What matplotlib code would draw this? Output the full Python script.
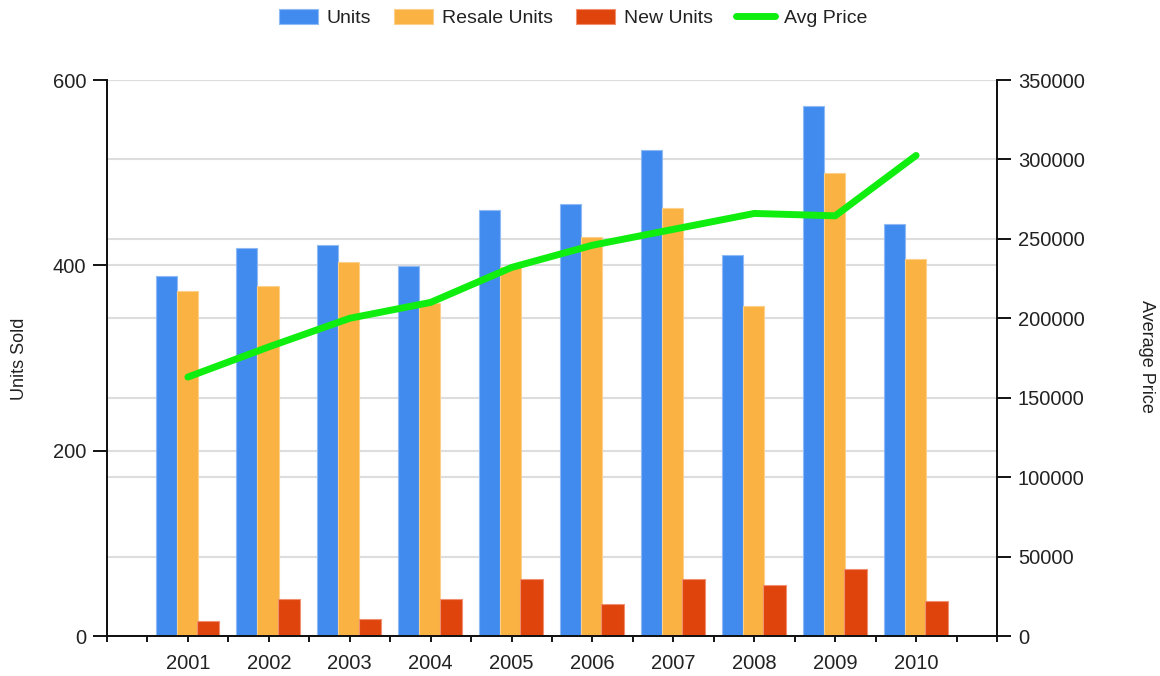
import numpy as np
import matplotlib
matplotlib.use('Agg')
import matplotlib.pyplot as plt

plt.rcParams['font.family'] = ['Liberation Sans', 'DejaVu Sans']

# data
years = ['2001', '2002', '2003', '2004', '2005', '2006', '2007', '2008', '2009', '2010']
units = [388, 419, 422, 399, 460, 466, 524, 411, 572, 445]
resale_units = [372, 378, 404, 359, 398, 431, 462, 356, 500, 407]
new_units = [16, 40, 18, 40, 62, 34, 62, 55, 72, 38]
avg_price = [163000, 182000, 200000, 210000, 232000, 246000, 256000, 266000, 264500, 302500]

left_ticks = [0, 200, 400, 600]
right_ticks = [0, 50000, 100000, 150000, 200000, 250000, 300000, 350000]

blue = '#418BEE'
orange = '#FAB242'
red = '#E0440D'
green = '#10EE10'
text_col = '#222222'

fig = plt.figure(figsize=(11.6, 6.76), dpi=100)
ax1 = fig.add_axes([107 / 1160, 1 - 636 / 676, 890 / 1160, 556 / 676])
ax2 = ax1.twinx()

x = np.arange(len(years))

ax1.set_axisbelow(True)
for v in left_ticks:
    ax1.axhline(v, color='#dddddd', lw=1.5, zorder=0)
for v in right_ticks:
    ax1.axhline(v * 600 / 350000, color='#dddddd', lw=1.5, zorder=0)

ax1.bar(x - 0.27, units, width=0.26, color=blue, edgecolor='#8fbaf5', linewidth=0.8, label='Units', zorder=2)
ax1.bar(x - 0.01, resale_units, width=0.26, color=orange, edgecolor='#fcd08a', linewidth=0.8, label='Resale Units', zorder=2)
ax1.bar(x + 0.25, new_units, width=0.28, color=red, edgecolor='#f09070', linewidth=0.8, label='New Units', zorder=2)

ax2.plot(x, avg_price, color=green, lw=5, solid_capstyle='round', solid_joinstyle='round', label='Avg Price')

ax1.set_xlim(-1, 10)
ax1.set_ylim(0, 600)
ax2.set_ylim(0, 350000)

ax1.set_xticks(x)
ax1.set_xticklabels(years)
ax1.set_xticks(np.arange(-1, 10.01, 0.5), minor=True)
ax1.tick_params(axis='x', which='both', direction='out', length=4, width=1.3, pad=9,
                labelsize=14.5, labelcolor=text_col)

ax1.set_yticks(left_ticks)
ax1.set_yticklabels([str(v) for v in left_ticks])
ax1.tick_params(axis='y', length=10, width=1.3, pad=5, labelsize=14.5, labelcolor=text_col)

ax2.set_yticks(right_ticks)
ax2.set_yticklabels([str(v) for v in right_ticks])
ax2.tick_params(axis='y', length=10, width=1.3, pad=5, labelsize=14.5, labelcolor=text_col)

for ax in (ax1, ax2):
    ax.spines['top'].set_visible(False)
    for s in ('left', 'right', 'bottom'):
        ax.spines[s].set_linewidth(1.3)
        ax.spines[s].set_color('#111111')

fig.text(20 / 1160, 1 - 359 / 676, 'Units Sold', rotation=90, ha='center', va='center',
         fontsize=13, color=text_col)
fig.text(1147 / 1160, 1 - 356 / 676, 'Average Price', rotation=270, ha='center', va='center',
         fontsize=13, color=text_col)

h1, l1 = ax1.get_legend_handles_labels()
h2, l2 = ax2.get_legend_handles_labels()
fig.legend(h1 + h2, l1 + l2, loc='center', bbox_to_anchor=(573 / 1160, 1 - 18 / 676), ncol=4,
           frameon=False, fontsize=14, handlelength=2.0, handleheight=0.8,
           handletextpad=0.45, columnspacing=1.2, labelcolor=text_col)

fig.savefig('out.png', dpi=100)
